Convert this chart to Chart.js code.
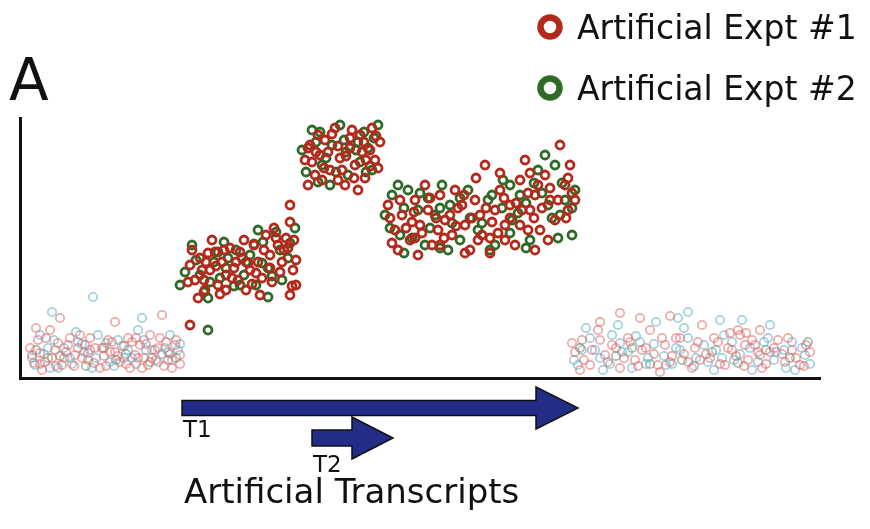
<!DOCTYPE html>
<html>
<head>
<meta charset="utf-8">
<script src="https://cdn.jsdelivr.net/npm/chart.js@4/dist/chart.umd.min.js"></script>
<style>
  html, body { margin: 0; padding: 0; background: #fff; }
  #wrap { width: 870px; height: 529px; }
</style>
</head>
<body>
<div id="wrap"><canvas id="scatterChart"></canvas></div>
<script>
// x = genomic position, y = signal
const expt1 = [
  [170,113],[175,98],[180,120],[185,88],[190,108],[195,126],[198,93],[202,116],[206,103],[210,130],
  [214,110],[218,98],[222,120],[226,88],[230,108],[234,133],[238,116],[242,100],[246,143],[250,123],
  [254,150],[258,133],[262,116],[266,140],[270,156],[273,108],[276,93],[270,83],[170,53],[178,80],
  [192,138],[206,88],[224,138],[240,83],[250,110],[264,128],[274,138],[168,96],[186,116],[216,116],
  [172,128],[182,108],[188,125],[196,112],[204,128],[212,100],[220,126],[228,115],[236,105],[244,128],
  [252,96],[260,106],[268,130],[276,118],[184,98],[200,84],[232,94],[256,140],[272,92],
  [285,218],[290,233],[295,203],[300,223],[305,238],[310,208],[315,250],[320,220],[325,193],[330,230],
  [335,213],[340,243],[345,200],[350,228],[355,218],[360,236],[288,193],[298,243],[322,208],[338,188],
  [352,250],[308,226],[270,173],[332,248],[346,218],[292,216],[318,198],[358,210],
  [288,230],[296,226],[304,210],[312,244],[318,232],[326,222],[334,200],[342,226],[350,212],[356,242],
  [302,198],[330,240],[344,236],
  [368,173],[375,148],[382,163],[390,138],[395,178],[400,153],[408,168],[412,133],[420,183],[425,158],
  [432,143],[438,170],[445,153],[450,128],[455,178],[460,163],[465,213],[470,140],[475,168],[480,188],
  [485,153],[490,173],[495,133],[500,198],[505,218],[510,168],[515,183],[520,148],[525,203],[530,178],
  [535,158],[540,233],[545,193],[550,213],[555,178],[378,128],[405,193],[435,188],[485,138],[528,138],
  [500,153],[442,173],[418,148],[392,156],[518,193],[548,168],[398,123],[462,143],[508,148],
  [370,160],[380,178],[386,150],[394,166],[402,145],[410,180],[416,160],[424,140],[430,163],[436,152],
  [444,183],[452,160],[458,138],[466,170],[472,156],[478,145],[484,180],[490,160],[496,175],[502,168],
  [508,185],[514,160],[522,170],[530,190],[538,178],[546,160],[552,185],[456,200],[480,205],[510,205],
  [395,140],[420,133],[372,135],[445,125],[470,125],[515,128],[548,200]
];
const expt2 = [
  [165,106],[172,133],[180,103],[188,80],[194,116],[200,100],[208,120],[216,128],[224,103],[230,123],
  [236,93],[243,136],[248,110],[256,146],[262,98],[268,120],[275,150],[188,48],[248,81],[204,136],
  [220,93],[238,148],[160,93],
  [176,118],[190,96],[206,110],[214,92],[226,116],[234,134],[252,102],[260,128],[270,135],[184,86],
  [198,126],[242,115],
  [282,228],[292,248],[302,213],[312,233],[320,253],[328,203],[336,228],[344,246],[352,208],[358,253],
  [298,196],[324,238],[340,216],[310,193],[348,230],
  [286,206],[296,236],[306,220],[316,206],[326,226],[338,236],[346,206],[354,240],[300,246],
  [365,163],[372,183],[380,143],[388,188],[398,168],[405,133],[415,163],[422,193],[430,173],[440,138],
  [448,188],[458,148],[468,178],[475,133],[483,198],[492,158],[500,183],[510,138],[518,208],[528,173],
  [535,213],[545,178],[552,143],[555,188],[428,128],[378,193],[408,180],[490,193],[525,223],[540,163],
  [370,150],[384,170],[392,140],[400,185],[410,150],[420,170],[432,155],[440,180],[450,160],[462,155],
  [472,183],[482,170],[490,145],[498,165],[506,175],[514,195],[522,185],[532,160],[542,195],[552,170],
  [384,125],[420,130],[470,128],[506,130],[538,140]
];
const backgroundPink = [
  [12,23],[18,38],[25,16],[30,48],[35,28],[42,13],[48,33],[55,23],[60,43],[68,18],
  [75,30],[80,10],[88,38],[95,26],[100,16],[108,40],[115,23],[120,33],[128,13],[135,28],
  [140,40],[148,18],[155,33],[160,23],[40,60],[95,56],[142,63],[22,8],[65,33],[110,10],
  [130,43],[152,10],[16,50],[84,22],[124,20],[46,26],
  [10,30],[14,15],[20,25],[26,40],[32,20],[38,35],[44,20],[50,40],[54,12],[58,30],
  [62,20],[70,28],[74,15],[82,30],[86,12],[92,36],[98,22],[104,32],[106,14],[112,36],
  [118,20],[122,10],[126,34],[132,20],[138,30],[144,12],[150,24],[156,38],[160,14],[20,14],
  [36,12],[70,40],[90,26],[116,40],[136,18],[146,36],
  [555,26],[562,38],[570,13],[578,48],[585,23],[592,33],[600,10],[608,40],[615,18],[622,28],
  [630,48],[638,13],[645,33],[652,22],[660,40],[668,16],[675,30],[682,53],[690,20],[698,36],
  [705,13],[712,28],[720,43],[728,18],[735,33],[742,10],[750,26],[758,38],[765,16],[772,28],
  [780,13],[786,33],[620,60],[580,56],[680,18],[725,33],[740,23],[560,8],[640,6],
  [552,35],[564,18],[572,28],[580,38],[588,16],[596,30],[604,20],[610,36],[618,12],[626,30],
  [634,24],[642,40],[650,16],[656,40],[664,24],[672,10],[678,36],[686,24],[694,40],[700,14],
  [708,30],[716,22],[724,12],[732,38],[738,26],[746,14],[754,30],[762,24],[768,40],[776,20],
  [784,12],[790,26],[710,45],[718,48],[726,45],[740,48],[600,65],[650,62]
];
const backgroundBlue = [
  [15,13],[20,43],[28,30],[38,10],[50,20],[58,36],[72,10],[78,43],[90,16],[102,32],
  [112,20],[118,48],[126,28],[138,16],[150,43],[158,28],[73,81],[32,66],[122,60],[64,26],
  [98,38],[145,30],
  [12,20],[24,24],[34,38],[44,30],[52,14],[62,34],[68,25],[76,20],[86,35],[94,12],
  [104,20],[108,28],[116,14],[124,38],[132,28],[142,24],[152,18],[160,34],[30,10],[56,46],
  [558,13],[566,50],[575,28],[583,8],[592,43],[602,26],[612,10],[620,36],[628,20],[636,56],
  [646,13],[656,30],[664,50],[674,12],[684,33],[694,8],[704,43],[714,18],[722,58],[732,8],
  [744,36],[754,18],[764,28],[775,8],[785,23],[668,66],[598,53],[750,53],
  [554,18],[562,28],[570,40],[580,20],[590,14],[600,35],[608,26],[616,42],[626,14],[634,34],
  [644,22],[652,14],[660,28],[668,40],[676,20],[688,16],[696,28],[702,20],[712,36],[720,24],
  [730,30],[738,16],[748,40],[756,26],[766,10],[772,36],[782,30],[790,14],[658,60],[700,58]
];
const backgroundGreen = [
  [16,28],[40,22],[66,12],[84,30],[106,24],[130,16],[148,26],[156,20],[28,20],[96,18],
  [560,30],[596,22],[630,14],[662,18],[692,26],[718,15],[746,28],[770,20],[788,36],[612,30]
];
// transcripts drawn under the axis: [label, start, end]
const transcripts = [['T1', 162, 558], ['T2', 292, 373]];
const xRange = [0, 800];
const yRange = [0, 260];

const RED = '#b3291b';
const GREEN = '#2f6a26';

function pts(arr) { return arr.map(p => ({ x: p[0], y: p[1] })); }

const extras = {
  id: 'extras',
  afterDraw(chart) {
    const c = chart.ctx;
    const xs = chart.scales.x;
    c.save();
    // panel letter
    c.fillStyle = '#111';
    c.font = '58px "DejaVu Sans"';
    c.textBaseline = 'alphabetic';
    c.fillText('A', 9, 100);
    // legend
    c.font = '33px "DejaVu Sans"';
    [0, 1].forEach(i => {
      const ds = chart.data.datasets[i];
      const y = 27 + i * 61;
      c.beginPath();
      c.arc(550, y, 9.5, 0, Math.PI * 2);
      c.lineWidth = 6.5;
      c.strokeStyle = ds.borderColor;
      c.stroke();
      c.fillStyle = '#111';
      c.fillText(ds.label, 577, y + 12);
    });
    // transcript arrows
    const rows = [{ y: 408, body: 7.5, head: 21, len: 42 }, { y: 438, body: 8, head: 21, len: 41 }];
    const labelY = [437, 472];
    transcripts.forEach((t, i) => {
      const r = rows[i];
      const x0 = xs.getPixelForValue(t[1]);
      const x1 = xs.getPixelForValue(t[2]);
      c.beginPath();
      c.moveTo(x0, r.y - r.body);
      c.lineTo(x1 - r.len, r.y - r.body);
      c.lineTo(x1 - r.len, r.y - r.head);
      c.lineTo(x1, r.y);
      c.lineTo(x1 - r.len, r.y + r.head);
      c.lineTo(x1 - r.len, r.y + r.body);
      c.lineTo(x0, r.y + r.body);
      c.closePath();
      c.fillStyle = '#232c86';
      c.fill();
      c.lineWidth = 1.5;
      c.strokeStyle = '#111';
      c.stroke();
      c.fillStyle = '#111';
      c.font = '23px "DejaVu Sans"';
      c.fillText(t[0], x0 + 1, labelY[i]);
    });
    c.font = '34px "DejaVu Sans"';
    c.fillText('Artificial Transcripts', 184, 503);
    c.restore();
  }
};

const ctx = document.getElementById('scatterChart').getContext('2d');

new Chart(ctx, {
  type: 'scatter',
  data: {
    datasets: [
      { label: 'Artificial Expt #1', data: pts(expt1), borderColor: RED, backgroundColor: 'rgba(0,0,0,0)',
        pointRadius: 4, pointBorderWidth: 2.8, order: 1 },
      { label: 'Artificial Expt #2', data: pts(expt2), borderColor: GREEN, backgroundColor: 'rgba(0,0,0,0)',
        pointRadius: 4, pointBorderWidth: 2.8, order: 2 },
      { label: 'bg1', data: pts(backgroundPink), borderColor: 'rgba(225,100,100,0.55)', backgroundColor: 'rgba(0,0,0,0)',
        pointRadius: 4.2, pointBorderWidth: 1.8, order: 3 },
      { label: 'bg2', data: pts(backgroundBlue), borderColor: 'rgba(100,180,205,0.6)', backgroundColor: 'rgba(0,0,0,0)',
        pointRadius: 4.2, pointBorderWidth: 1.8, order: 4 },
      { label: 'bg3', data: pts(backgroundGreen), borderColor: 'rgba(80,130,80,0.5)', backgroundColor: 'rgba(0,0,0,0)',
        pointRadius: 4.2, pointBorderWidth: 1.8, order: 5 }
    ]
  },
  options: {
    responsive: true,
    maintainAspectRatio: false,
    animation: false,
    layout: { padding: { left: 20, right: 50, top: 118, bottom: 151 } },
    plugins: { legend: { display: false }, tooltip: { enabled: false } },
    scales: {
      x: {
        type: 'linear', min: xRange[0], max: xRange[1],
        grid: { display: false, drawTicks: false },
        ticks: { display: false },
        border: { display: true, color: '#111', width: 3 }
      },
      y: {
        min: yRange[0], max: yRange[1],
        grid: { display: false, drawTicks: false },
        ticks: { display: false },
        border: { display: true, color: '#111', width: 3 }
      }
    }
  },
  plugins: [extras]
});
</script>
</body>
</html>
